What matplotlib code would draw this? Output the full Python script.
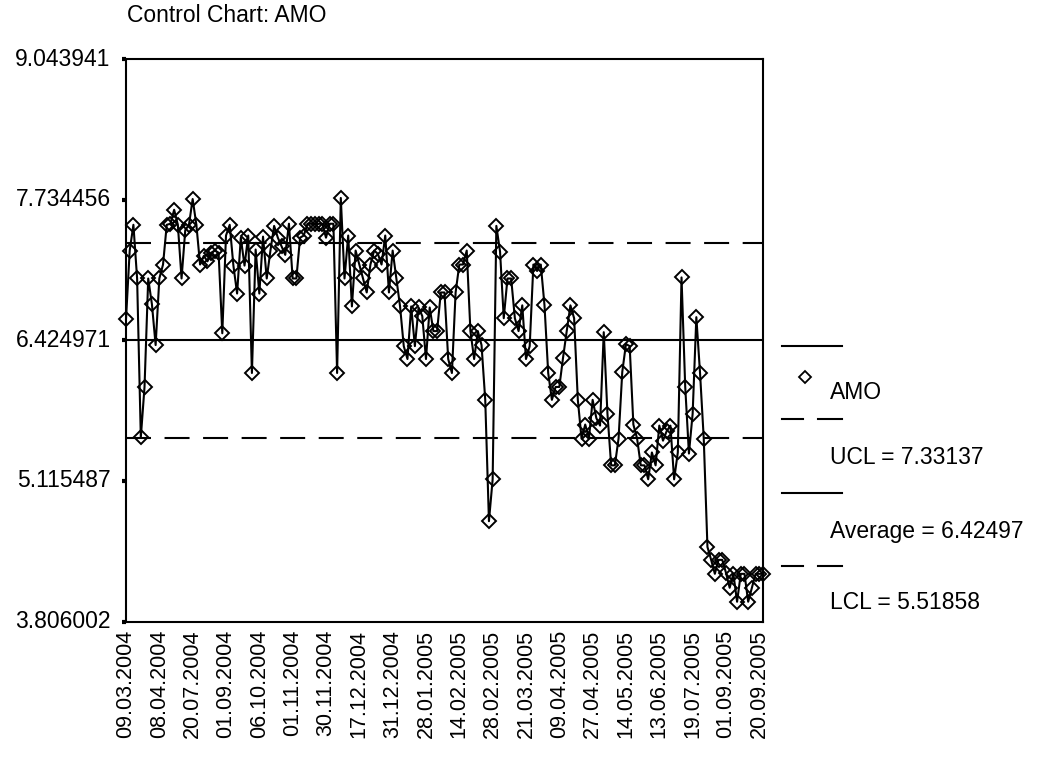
import matplotlib
matplotlib.use("Agg")
import matplotlib.pyplot as plt
from matplotlib.lines import Line2D
import numpy as np

plt.rcParams['font.family'] = ['Liberation Sans', 'DejaVu Sans']

title = "Control Chart: AMO"
series_name = "AMO"
ucl = 7.33137
average = 6.42497
lcl = 5.51858

values = [
    6.62, 7.26, 7.50, 7.00, 5.52, 5.99, 7.00, 6.76, 6.38, 7.00, 7.13, 7.50, 7.51, 7.64, 7.50, 7.00, 7.45, 7.50, 7.74, 7.50,
    7.13, 7.21, 7.16, 7.24, 7.26, 7.24, 6.49, 7.40, 7.50, 7.12, 6.86, 7.38, 7.12, 7.40, 6.12, 7.27, 6.86, 7.39, 7.00, 7.26, 7.49,
    7.38, 7.30, 7.22, 7.51, 7.00, 7.00, 7.38, 7.40, 7.51, 7.51, 7.51, 7.51, 7.51, 7.38, 7.51, 7.51, 6.12, 7.75,
    7.00, 7.40, 6.74, 7.26, 7.13, 7.00, 6.87, 7.13, 7.26, 7.23, 7.13, 7.40, 6.87, 7.26, 7.00, 6.74, 6.37, 6.25, 6.74, 6.37,
    6.73, 6.65, 6.25, 6.73, 6.51, 6.51, 6.87, 6.87, 6.25, 6.12, 6.87, 7.13, 7.13, 7.26, 6.51, 6.25, 6.51, 6.38, 5.87, 4.74,
    5.13, 7.49, 7.25, 6.63, 7.00, 7.00, 6.63, 6.51, 6.75, 6.25, 6.37, 7.13, 7.07, 7.13, 6.75, 6.12, 5.87, 5.99, 5.99, 6.26,
    6.51, 6.75, 6.63, 5.87, 5.51, 5.64, 5.51, 5.87, 5.70, 5.63,
    6.50, 5.74, 5.26, 5.26, 5.51, 6.13, 6.39, 6.37, 5.64, 5.51, 5.26, 5.26, 5.13, 5.38, 5.26, 5.63, 5.49, 5.58, 5.63, 5.13,
    5.38, 7.01, 5.99, 5.37, 5.74, 6.64, 6.12, 5.51,
    4.50, 4.38, 4.25, 4.38, 4.38, 4.26, 4.12, 4.25, 3.99, 4.25, 4.25, 3.99, 4.12, 4.25, 4.25, 4.25,
]

date_labels = ["09.03.2004", "08.04.2004", "20.07.2004", "01.09.2004", "06.10.2004",
               "01.11.2004", "30.11.2004", "17.12.2004", "31.12.2004", "28.01.2005",
               "14.02.2005", "28.02.2005", "21.03.2005", "09.04.2005", "27.04.2005",
               "14.05.2005", "13.06.2005", "19.07.2005", "01.09.2005", "20.09.2005"]
label_step = 9

y_ticks = [3.806002, 5.115487, 6.424971, 7.734456, 9.043941]

W, H = 1050, 766
FS = 16.5
fig = plt.figure(figsize=(W / 100, H / 100), dpi=100)
ax = fig.add_axes([126 / W, 1 - 621.5 / H, (763 - 126) / W, (621.5 - 59) / H])

x = np.arange(len(values))
ax.plot(x, values, color='black', lw=1.5, marker='D', ms=7, mfc='none', mec='black', mew=1.4,
        zorder=3, clip_on=False)

ax.axhline(average, color='black', lw=1.5, zorder=2)
l1 = ax.axhline(ucl, color='black', lw=1.5, zorder=2)
l2 = ax.axhline(lcl, color='black', lw=1.5, zorder=2)
for l in (l1, l2):
    l.set_dashes((12, 6.5))

ax.set_ylim(y_ticks[0], y_ticks[-1])
ax.set_xlim(0, len(values) - 1)
ax.set_yticks(y_ticks)
ax.set_yticklabels([f"{v:.6f}" for v in y_ticks], fontsize=FS, va='center')
ax.set_xticks(np.arange(len(date_labels)) * label_step)
ax.set_xticklabels(date_labels, rotation=90, fontsize=15.5)
ax.tick_params(axis='y', length=3, width=3, pad=8, direction='out')
ax.tick_params(axis='x', length=0, pad=6)
for s in ax.spines.values():
    s.set_linewidth(1.5)

fig.text(127 / W, 1 - 22 / H, title, fontsize=FS, ha='left', va='baseline')

def fx(px):
    return px / W

def fy(py):
    return 1 - py / H

def seg(x0, x1, y):
    fig.add_artist(Line2D([fx(x0), fx(x1)], [fy(y), fy(y)], color='black', lw=1.5,
                          transform=fig.transFigure))

# legend drawn at the right side
seg(782, 842, 346)
fig.add_artist(Line2D([fx(805)], [fy(377)], marker='D', ms=6.3, mfc='none', mec='black', mew=1.3,
                      ls='none', transform=fig.transFigure))
seg(782, 803, 419)
seg(818, 842, 419)
seg(782, 842, 493)
seg(782, 803, 566)
seg(818, 842, 566)

fig.text(fx(830), fy(399), series_name, fontsize=FS, ha='left', va='baseline')
fig.text(fx(830), fy(464), f"UCL = {ucl:.5f}", fontsize=FS, ha='left', va='baseline')
fig.text(fx(830), fy(538), f"Average = {average:.5f}", fontsize=FS, ha='left', va='baseline')
fig.text(fx(830), fy(609), f"LCL = {lcl:.5f}", fontsize=FS, ha='left', va='baseline')

fig.savefig("out.png", dpi=100)
